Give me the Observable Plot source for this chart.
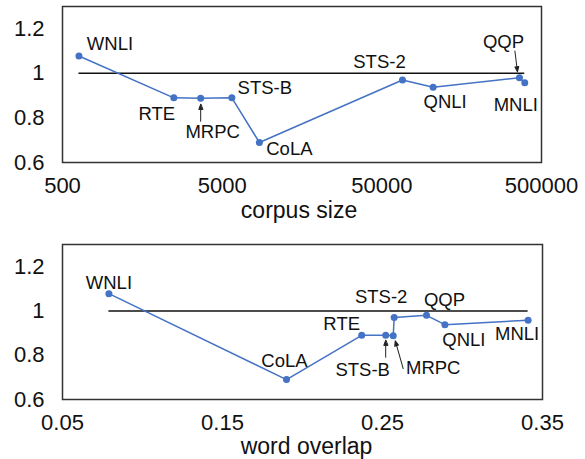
<!DOCTYPE html>
<html><head><meta charset="utf-8">
<script src="https://cdn.jsdelivr.net/npm/d3@7"></script>
<script src="https://cdn.jsdelivr.net/npm/@observablehq/plot@0.6"></script>
<style>
body{margin:0;background:#fff;}
#chart svg{display:block;}
</style></head><body><div id="chart"></div>
<script>
// ---- data ----
const tasks = ["WNLI", "RTE", "MRPC", "STS-B", "CoLA", "STS-2", "QNLI", "QQP", "MNLI"];
const corpusSize = [634, 2490, 3668, 5749, 8551, 67349, 104743, 363846, 392702];
const wordOverlap = [0.079, 0.237, 0.2567, 0.252, 0.19, 0.2573, 0.289, 0.2775, 0.341];
const ratio = [1.078, 0.89, 0.888, 0.89, 0.69, 0.97, 0.938, 0.98, 0.958];
const yTicks = [0.6, 0.8, 1, 1.2];
const corpusTicks = [500, 5000, 50000, 500000];
const overlapTicks = [0.05, 0.15, 0.25, 0.35];
const baselineValue = 1;

// ---- annotation layout (pixel offsets of labels / callout arrows) ----
const corpusLabelOffsets = {WNLI:[31,-12], RTE:[-17,16], MRPC:[12,34], "STS-B":[33,-10], CoLA:[30,7], "STS-2":[-23,-18], QNLI:[12,15], QQP:[-16,-36], MNLI:[-9,22]};
const overlapLabelOffsets = {WNLI:[0,-11], CoLA:[-2,-18], RTE:[-20,-11], "STS-B":[-23,35], MRPC:[40,32], "STS-2":[-13,-20], QQP:[18,-15], QNLI:[19,15], MNLI:[-11,14]};
const corpusArrows = [{task:"MRPC", length:17, rotate:0, dx:0, dy:6}, {task:"QQP", length:21, rotate:173, dx:-2, dy:-6}];
const overlapArrows = [{task:"STS-B", length:17, rotate:0, dx:0, dy:5}, {task:"MRPC", length:29, rotate:344, dx:2, dy:5}];

const rows = tasks.map((t, i) => ({task: t, size: corpusSize[i], overlap: wordOverlap[i], ratio: ratio[i]}));

const blue = "#4472C4";
const font = "'Liberation Sans', Arial, Helvetica, sans-serif";

const arrowShape = {
  draw(context, l, r) {
    const h = r * 1.7, w = r * 0.65;
    context.moveTo(0, 0);
    context.lineTo(0, -l + h * 0.8);
    context.moveTo(0, -l);
    context.lineTo(-w, -l + h);
    context.lineTo(w, -l + h);
    context.closePath();
  }
};

function makeChart({xKey, xScale, xTicks, label, labelDx, labelDy, offsets, arrows, height, marginTop, marginBottom, marginRight}) {
  const sorted = rows.slice().sort((a, b) => a[xKey] - b[xKey]);
  const xmin = d3.min(rows, d => d[xKey]);
  const xmax = d3.max(rows, d => d[xKey]);
  const marks = [
    // x tick labels, positioned through the x scale
    Plot.text(xTicks, {x: d => d, text: d => String(d), frameAnchor: "bottom", lineAnchor: "top", dy: 15, fontSize: 22, fill: "#111"}),
    Plot.axisY(yTicks, {tickSize: 0, tickPadding: 18, label: null, tickFormat: d => String(d), fontSize: 22, fill: "#111"}),
    Plot.ruleY([baselineValue], {x1: () => xmin, x2: () => xmax, stroke: "#111", strokeWidth: 1.5}),
    Plot.line(sorted, {x: xKey, y: "ratio", stroke: blue, strokeWidth: 1.5}),
    Plot.dot(rows, {x: xKey, y: "ratio", r: 3.5, fill: blue, stroke: null}),
    Plot.frame({stroke: "#333", strokeWidth: 1.5}),
    Plot.text([label], {text: d => d, frameAnchor: "bottom", dx: labelDx, dy: labelDy, fontSize: 23, lineAnchor: "middle", fill: "#111"})
  ];
  for (const r of rows) {
    const [dx, dy] = offsets[r.task];
    marks.push(Plot.text([r], {x: xKey, y: "ratio", text: "task", dx, dy, fontSize: 18.5, fill: "#111", lineAnchor: "middle"}));
  }
  for (const a of arrows) {
    const r = rows.find(d => d.task === a.task);
    marks.push(Plot.vector([r], {x: xKey, y: "ratio", length: a.length, rotate: a.rotate, anchor: "end", dx: a.dx, dy: a.dy, shape: arrowShape, r: 3, stroke: "#222", fill: "#222", strokeWidth: 1}));
  }
  return Plot.plot({
    width: 585,
    height,
    marginLeft: 62,
    marginRight,
    marginTop,
    marginBottom,
    style: {fontFamily: font, fontSize: "22px", color: "#111", background: "#fff"},
    x: Object.assign({axis: null}, xScale),
    y: {domain: [0.6, 1.3]},
    marks
  });
}

const topChart = makeChart({
  xKey: "size",
  xScale: {type: "log", domain: [500, 500000]},
  xTicks: corpusTicks,
  label: "corpus size", labelDx: -3, labelDy: 48,
  offsets: corpusLabelOffsets, arrows: corpusArrows,
  height: 230, marginTop: 6, marginBottom: 68, marginRight: 44
});
const bottomChart = makeChart({
  xKey: "overlap",
  xScale: {type: "linear", domain: [0.05, 0.35]},
  xTicks: overlapTicks,
  label: "word overlap", labelDx: 4, labelDy: 47,
  offsets: overlapLabelOffsets, arrows: overlapArrows,
  height: 229, marginTop: 14, marginBottom: 60, marginRight: 43
});
document.getElementById("chart").append(topChart, bottomChart);
</script></body></html>
